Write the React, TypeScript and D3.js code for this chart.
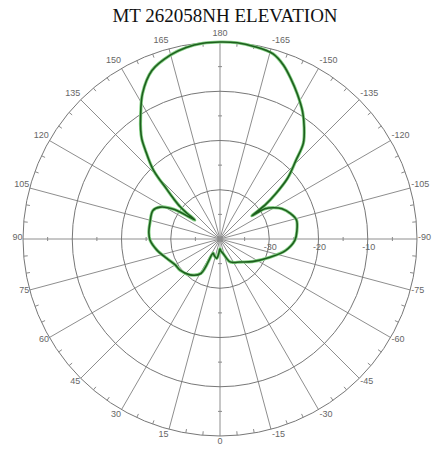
import React from "react";
import * as d3 from "d3";

const title = "MT 262058NH ELEVATION";
const spokeAngles = d3.range(-165, 181, 15);
const spokeLabels = ["-165","-150","-135","-120","-105","-90","-75","-60","-45","-30","-15","0","15","30","45","60","75","90","105","120","135","150","165","180"];
const ringDb = [-40, -30, -20, -10, 0];
const ringLabels = ["-30", "-20", "-10"];
const ringLabelDb = [-30, -20, -10];

const patternAngles = [-180,-175,-170,-164,-160,-156,-152,-147,-143,-139,-136,-132,-129,-127,-126,-124,-120,-116,-110,-104,-96,-89,-80,-70,-55,-41,-30,-23,-12,-5,0,5,10,20,26,29,40,52,60,70,80,89,95,103,113,118,123,127,128,129,131,133,136,140,142,144,147,152,158,165,170,175];
const patternDb = [0,0,-0.3,-0.9,-2.4,-4.5,-6.6,-9.2,-11.6,-14.2,-17.8,-21.5,-25.5,-28.5,-32,-29,-27.3,-26,-24.8,-24,-24.3,-24.8,-26.5,-29.2,-32,-33.8,-34.5,-35,-37,-37.5,-38,-37,-36,-36.5,-36.8,-32,-30.5,-29.7,-29.5,-28.5,-27,-25.8,-25.5,-25.4,-25.2,-26.2,-29,-33.6,-31.5,-29.6,-27.5,-25.3,-20.5,-16.4,-14.2,-12.6,-10.4,-6.5,-3.1,-1.3,-0.5,-0.1];

const W = 432, H = 450;
const cx = 220, cy = 239, R = 197;

export default function App() {
  const r = d3.scaleLinear().domain([-40, 0]).range([0, R]);
  const toXY = (a: number, rad: number) => {
    const t = (a * Math.PI) / 180;
    return [cx - rad * Math.sin(t), cy + rad * Math.cos(t)];
  };
  const pts = patternAngles.map((a, i) => ({ a, v: patternDb[i] }));
  const line = d3
    .lineRadial<{ a: number; v: number }>()
    .angle((d) => ((d.a - 180) * Math.PI) / 180)
    .radius((d) => r(d.v))
    .curve(d3.curveCatmullRomClosed.alpha(0.5));
  const path = line(pts) || "";

  const minorTicks = d3.range(-180, 180, 5).filter((a) => a % 15 !== 0);
  const axisTickDb = [-35, -25, -15, -5];
  const font = "Liberation Sans, Arial, sans-serif";

  return (
    <svg width={W} height={H} style={{ position: "absolute", left: 0, top: 0, background: "#fff" }}>
      <text x={225} y={22} textAnchor="middle" fontFamily="Liberation Serif, Times New Roman, serif" fontSize={19} fill="#111">{title}</text>
      {spokeAngles.map((a) => {
        const [x, y] = toXY(a, R);
        return <line key={"s" + a} x1={cx} y1={cy} x2={x} y2={y} stroke="#8e8e8e" strokeWidth={1} />;
      })}
      {ringDb.filter((d) => d > -40).map((d) => (
        <circle key={"c" + d} cx={cx} cy={cy} r={r(d)} fill="none" stroke="#777" strokeWidth={1} />
      ))}
      {minorTicks.map((a) => {
        const [x1, y1] = toXY(a, R);
        const [x2, y2] = toXY(a, R - 4);
        return <line key={"m" + a} x1={x1} y1={y1} x2={x2} y2={y2} stroke="#8a8a8a" strokeWidth={1} />;
      })}
      {[0, 90, 180, -90].flatMap((a) =>
        axisTickDb.map((d) => {
          const t = (a * Math.PI) / 180;
          const [x, y] = toXY(a, r(d));
          const px = Math.cos(t) * 2, py = Math.sin(t) * 2;
          return <line key={"at" + a + d} x1={x - px} y1={y - py} x2={x + px} y2={y + py} stroke="#8a8a8a" strokeWidth={1} />;
        })
      )}
      {spokeAngles.map((a, i) => {
        const [x, y] = toXY(a, R);
        const t = (a * Math.PI) / 180;
        const ux = -Math.sin(t), uy = Math.cos(t);
        const anchor = Math.abs(ux) < 0.01 ? "middle" : ux < 0 ? "end" : "start";
        const lx = x + (ux < -0.01 ? -0.5 : ux > 0.01 ? 1 : 0);
        const ly = y + uy * 7 - 2;
        return (
          <text key={"l" + a} x={lx} y={ly} dy="0.35em" textAnchor={anchor} fontFamily={font} fontSize={9} fill="#666">{spokeLabels[i]}</text>
        );
      })}
      {ringLabelDb.map((d, i) => (
        <text key={"rl" + d} x={cx + r(d) + 1} y={cy + 11} textAnchor="middle" fontFamily={font} fontSize={9} fill="#666">{ringLabels[i]}</text>
      ))}
      <g transform={`translate(${cx},${cy})`}>
        <path d={path} fill="none" stroke="#84d184" strokeWidth={3.2} strokeLinejoin="round" />
        <path d={path} fill="none" stroke="#1e5e1e" strokeWidth={1.6} strokeLinejoin="round" />
      </g>
    </svg>
  );
}
